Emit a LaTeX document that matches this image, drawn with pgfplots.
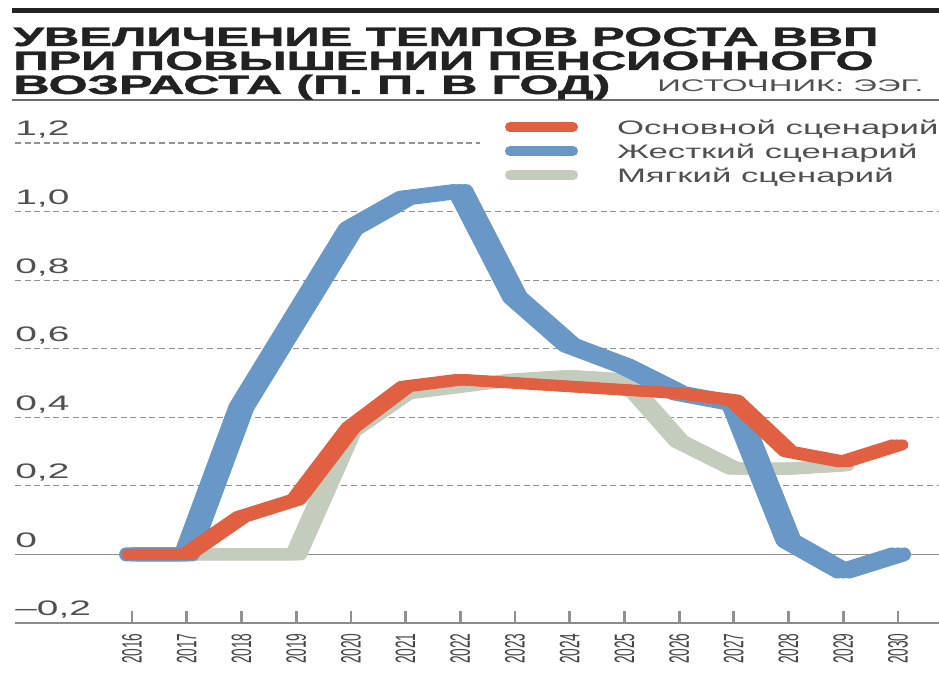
\documentclass[border=0pt]{standalone}
\usepackage{pgfplots}
\pgfplotsset{compat=1.18}
\usepackage{fontspec}
\setmainfont{Liberation Sans}
\newfontfamily\titlefont[BoldFeatures={FakeBold=1.2}]{Liberation Sans}
\newfontfamily\yfont[FakeStretch=1.85]{Liberation Sans}
\newfontfamily\legfont[FakeStretch=1.78]{Liberation Sans}
\newfontfamily\xfont[FakeStretch=0.49]{Liberation Sans}
\definecolor{orangec}{RGB}{226,96,66}
\definecolor{bluec}{RGB}{106,152,198}
\definecolor{grayc}{RGB}{196,204,190}
\definecolor{txtgray}{RGB}{80,80,80}
\definecolor{xtxt}{RGB}{70,70,70}
\definecolor{titlec}{RGB}{34,34,34}
\definecolor{gridc}{RGB}{145,145,145}
\definecolor{rulec}{RGB}{110,110,110}

\pgfplotstableread{
x y
2016 0
2017 0
2018 0.11
2019 0.16
2020 0.37
2021 0.49
2022 0.51
2023 0.50
2024 0.49
2025 0.48
2026 0.47
2027 0.45
2028 0.30
2029 0.27
2030 0.32
}\basetab
\pgfplotstableread{
x y
2016 0
2017 0
2018 0.43
2019 0.69
2020 0.95
2021 1.04
2022 1.06
2023 0.75
2024 0.61
2025 0.55
2026 0.47
2027 0.44
2028 0.04
2029 -0.05
2030 0.0
}\hardtab
\pgfplotstableread{
x y
2016 0
2017 0
2018 0
2019 0
2020 0.36
2021 0.47
2022 0.49
2023 0.51
2024 0.52
2025 0.51
2026 0.33
2027 0.25
2028 0.25
2029 0.26
}\softtab

\tikzset{
  widepen/.style={
    preaction={draw, transform canvas={xshift=-#1}},
    postaction={draw, transform canvas={xshift=#1}}},
}

\begin{document}
\begin{tikzpicture}
\path[use as bounding box] (-7.5pt,-25pt) rectangle (462pt,311.5pt);
% title decorations
\fill[titlec] (-1.5pt,305pt) rectangle (462pt,307.5pt);
\draw[rulec, line width=1pt] (-1.5pt,261.5pt) -- (462pt,261.5pt);
\node[anchor=base west, inner sep=0pt, text=titlec] at (-1pt,288.5pt)
  {\fontsize{13.3}{14}\titlefont\bfseries\resizebox{432.5pt}{\height}{УВЕЛИЧЕНИЕ ТЕМПОВ РОСТА ВВП}};
\node[anchor=base west, inner sep=0pt, text=titlec] at (-1pt,276.5pt)
  {\fontsize{13.3}{14}\titlefont\bfseries\resizebox{430pt}{\height}{ПРИ ПОВЫШЕНИИ ПЕНСИОННОГО}};
\node[anchor=base west, inner sep=0pt, text=titlec] at (-1pt,264.5pt)
  {\fontsize{13.3}{14}\titlefont\bfseries\resizebox{298.5pt}{\height}{ВОЗРАСТА (П.~П. В~ГОД)}};
\node[anchor=base west, inner sep=0pt, text=txtgray] at (321pt,265.5pt)
  {\fontsize{8.4}{9}\titlefont\resizebox{133pt}{\height}{ИСТОЧНИК: ЭЭГ.}};

\begin{axis}[
  at={(0,0)}, anchor=south west, scale only axis,
  width=462pt, height=240pt,
  xmin=2013.86, xmax=2030.75, ymin=-0.2, ymax=1.2,
  clip=false,
  axis line style={draw=none},
  xtick={2016,2017,2018,2019,2020,2021,2022,2023,2024,2025,2026,2027,2028,2029,2030},
  xticklabels={2016,2017,2018,2019,2020,2021,2022,2023,2024,2025,2026,2027,2028,2029,2030},
  xticklabel style={rotate=90, anchor=east, inner sep=0pt, font=\fontsize{14}{14}\xfont, text=xtxt},
  xticklabel shift=5pt,
  tick align=inside, xtick pos=bottom,
  major tick length=6pt,
  xtick style={line width=1.4pt, color=gridc},
  ytick={-0.2,0,0.2,0.4,0.6,0.8,1.0,1.2},
  yticklabels={{–0,2},{0},{0,2},{0,4},{0,6},{0,8},{1,0},{1,2}},
  ytick style={draw=none},
  yticklabel style={anchor=base west, inner sep=0pt, yshift=3.5pt, font=\fontsize{10.5}{10.5}\yfont, text=txtgray},
  legend style={at={(axis description cs:0.5303,1.0479)}, anchor=north west, draw=none, fill=none,
    inner sep=0pt, outer sep=0pt, row sep=3pt, column sep=19.5pt,
    font=\fontsize{9.75}{9.75}\legfont,
    cells={anchor=base west},
    nodes={inner sep=0pt, text height=7pt, text depth=2pt, text=txtgray}},
  legend image code/.code={\draw[#1] (0pt,3.5pt) -- (31.5pt,3.5pt);},
]
\draw[gridc, dash pattern=on 3pt off 1.8pt, line width=0.6pt] (axis cs:2013.86,1.2) -- (axis cs:2022.36,1.2);
\draw[gridc, dash pattern=on 3pt off 1.8pt, line width=0.6pt] (axis cs:2013.86,1.0) -- (axis cs:2030.75,1.0);
\draw[gridc, dash pattern=on 3pt off 1.8pt, line width=0.6pt] (axis cs:2013.86,0.8) -- (axis cs:2030.75,0.8);
\draw[gridc, dash pattern=on 3pt off 1.8pt, line width=0.6pt] (axis cs:2013.86,0.6) -- (axis cs:2030.75,0.6);
\draw[gridc, dash pattern=on 3pt off 1.8pt, line width=0.6pt] (axis cs:2013.86,0.4) -- (axis cs:2030.75,0.4);
\draw[gridc, dash pattern=on 3pt off 1.8pt, line width=0.6pt] (axis cs:2013.86,0.2) -- (axis cs:2030.75,0.2);
\draw[gridc, line width=0.7pt] (axis cs:2013.86,0) -- (axis cs:2030.75,0);
\draw[rulec!80, line width=1pt] (axis cs:2013.86,-0.2) -- (axis cs:2030.75,-0.2);

\addplot[forget plot, grayc, line width=6pt, line cap=round, line join=round, widepen=2.5pt] table[x=x,y=y] {\softtab};
\addplot[forget plot, bluec, line width=7pt, line cap=round, line join=round, widepen=3pt] table[x=x,y=y] {\hardtab};
\addplot[forget plot, orangec, line width=5.5pt, line cap=round, line join=round, widepen=2.5pt] table[x=x,y=y] {\basetab};

\addlegendimage{orangec, line width=5pt, line cap=round}
\addlegendentry{Основной сценарий}
\addlegendimage{bluec, line width=5pt, line cap=round}
\addlegendentry{Жесткий сценарий}
\addlegendimage{grayc, line width=5pt, line cap=round}
\addlegendentry{Мягкий сценарий}
\end{axis}
\end{tikzpicture}
\end{document}
